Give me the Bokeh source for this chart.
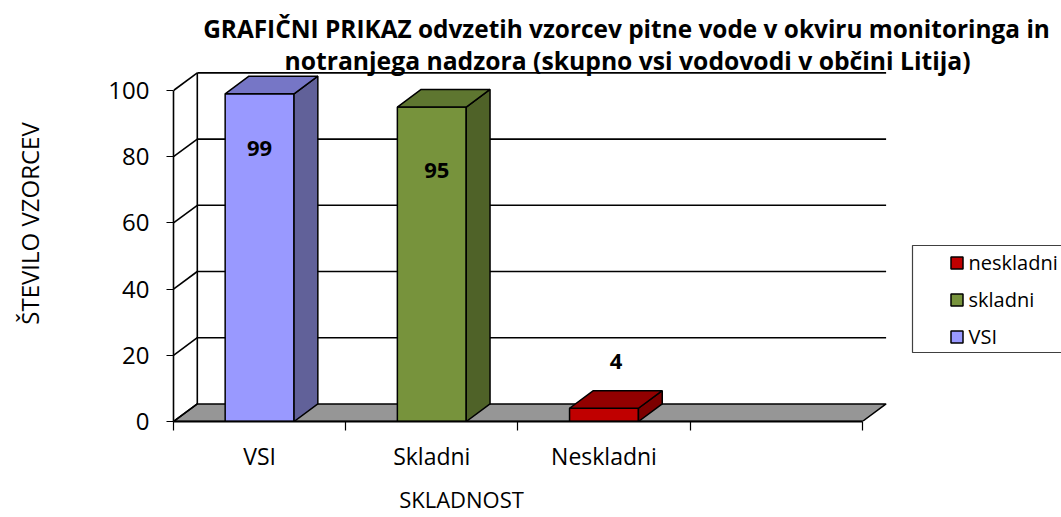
import math
from bokeh.plotting import figure
from bokeh.models import (Range1d, FixedTicker, Label, Legend, LegendItem,
                          BoxAnnotation, ColumnDataSource, LinearAxis)
from bokeh.core.properties import value
from bokeh.embed import file_html
from bokeh.resources import INLINE

# ---------------- data ----------------
categories = ["VSI", "Skladni", "Neskladni", ""]
series = ["VSI", "skladni", "neskladni"]
counts = [99, 95, 4]
y_ticks = [0, 20, 40, 60, 80, 100]
title_lines = ["GRAFIČNI PRIKAZ odvzetih vzorcev pitne vode v okviru monitoringa in",
               "notranjega nadzora (skupno vsi vodovodi v občini Litija)"]
y_title = "ŠTEVILO VZORCEV"
x_title = "SKLADNOST"

front_colors = ["#9999FF", "#77933C", "#C00000"]
top_colors = ["#7676C6", "#5E7630", "#920000"]
side_colors = ["#616199", "#4F6228", "#7C0000"]

# ---------------- geometry ----------------
W, H = 1061, 517
LEFT, BOTTOM = 173, 421          # canvas pixels of the frame's left / bottom
XS = 172.2                       # px per category unit
YS = 3.31                        # px per count unit
X_END = (W - LEFT) / XS
Y_END = BOTTOM / YS
DX = 23.8 / XS                   # 3D depth offset
DY = 17.6 / YS
HW = 0.2                         # half bar width
FONT = "Open Sans"


def px(x):
    return (x - LEFT) / XS


def py(y):
    return (BOTTOM - y) / YS


p = figure(width=W, height=H, x_range=Range1d(0, X_END), y_range=Range1d(0, Y_END),
           output_backend="svg", toolbar_location=None,
           min_border_left=LEFT, min_border_right=0, min_border_top=0,
           min_border_bottom=H - BOTTOM)
p.outline_line_color = None
p.grid.visible = False
p.background_fill_color = "white"
p.border_fill_color = "white"

n = len(categories)
top_val = y_ticks[-1]

# floor
p.patch([0, n, n + DX, DX], [0, 0, DY, DY], fill_color="#969696",
        line_color="black", line_width=1.5)
# back wall gridlines
p.multi_line([[DX, n + DX] for t in y_ticks[1:]], [[t + DY, t + DY] for t in y_ticks[1:]],
             line_color="black", line_width=1.6)
# left wall diagonals
p.multi_line([[0, DX] for t in y_ticks], [[t, t + DY] for t in y_ticks],
             line_color="black", line_width=1.6)
# back-left edge
p.line([DX, DX], [DY, top_val + DY], line_color="black", line_width=1.6)

# bars
xc = [i + 0.5 for i in range(len(counts))]
src = ColumnDataSource(dict(left=[c - HW for c in xc], right=[c + HW for c in xc],
                            top=counts, bottom=[0] * len(counts), color=front_colors))
front_r = p.quad(left="left", right="right", top="top", bottom="bottom", source=src,
                 fill_color="color", line_color="black", line_width=1.5)
p.patches([[c + HW, c + HW + DX, c + HW + DX, c + HW] for c in xc],
          [[0, DY, v + DY, v] for v in counts],
          fill_color=side_colors, line_color="black", line_width=1.5)
p.patches([[c - HW, c - HW + DX, c + HW + DX, c + HW] for c in xc],
          [[v, v + DY, v + DY, v] for v in counts],
          fill_color=top_colors, line_color="black", line_width=1.5)

# data labels
label_dx_px = [0, 5, 12]
label_dy_px = [-55, -63.5, 47]
p.text(x=[c + d / XS for c, d in zip(xc, label_dx_px)],
       y=[v + d / YS for v, d in zip(counts, label_dy_px)],
       text=[str(v) for v in counts], text_align="center", text_baseline="middle",
       text_font=value(FONT), text_font_style="bold", text_font_size="22px",
       text_color="black")

# axes
p.yaxis.ticker = FixedTicker(ticks=y_ticks)
p.yaxis.bounds = (0, top_val)
p.yaxis.major_tick_out = 7
p.yaxis.major_tick_in = 0
p.yaxis.minor_tick_out = 0
p.yaxis.minor_tick_in = 0
p.yaxis.major_label_standoff = 17
p.yaxis.major_label_text_font = FONT
p.yaxis.major_label_text_font_size = "24px"
p.yaxis.major_label_text_color = "black"
p.yaxis.axis_line_color = "black"
p.yaxis.axis_line_width = 1.6
p.yaxis.major_tick_line_color = "black"
p.yaxis.major_tick_line_width = 1.2

p.xaxis.ticker = FixedTicker(ticks=[i + 0.5 for i in range(n)], minor_ticks=list(range(n + 1)))
p.xaxis.major_label_overrides = {i + 0.5: c for i, c in enumerate(categories)}
p.xaxis.bounds = (0, n)
p.xaxis.major_tick_out = 0
p.xaxis.major_tick_in = 0
p.xaxis.minor_tick_out = 9
p.xaxis.minor_tick_in = 0
p.xaxis.major_label_standoff = 9
p.xaxis.major_label_text_font = FONT
p.xaxis.major_label_text_font_size = "23px"
p.xaxis.major_label_text_color = "black"
p.xaxis.axis_line_color = "black"
p.xaxis.axis_line_width = 2
p.xaxis.minor_tick_line_color = "black"
p.xaxis.minor_tick_line_width = 1.2

# axis titles as single-tick axes (placed at their positions via the scales)
yt = py(223)
ytitle_axis = LinearAxis(ticker=FixedTicker(ticks=[yt], minor_ticks=[]),
                         major_label_overrides={yt: y_title},
                         major_label_orientation="vertical", major_label_standoff=54,
                         major_label_text_font=FONT, major_label_text_font_size="24px",
                         major_label_text_color="black", axis_line_color=None,
                         major_tick_line_color=None, minor_tick_line_color=None)
p.add_layout(ytitle_axis, "left")
xt = px(461)
xtitle_axis = LinearAxis(ticker=FixedTicker(ticks=[xt], minor_ticks=[]),
                         major_label_overrides={xt: x_title}, major_label_standoff=3,
                         major_label_text_font=FONT, major_label_text_font_size="22px",
                         major_label_text_color="black", axis_line_color=None,
                         major_tick_line_color=None, minor_tick_line_color=None)
p.add_layout(xtitle_axis, "below")

# chart title
p.add_layout(Label(x=px(626), y=py(28.3), text=title_lines[0], text_align="center",
                   text_baseline="alphabetic", text_font=FONT, text_font_style="bold",
                   text_font_size="24.4px", text_color="black"))
p.add_layout(Label(x=px(627), y=py(59.5), text=title_lines[1], text_align="center",
                   text_baseline="alphabetic", text_font=FONT, text_font_style="bold",
                   text_font_size="24.7px", text_color="black"))

# legend
p.add_layout(BoxAnnotation(left=px(912), right=px(1080), top=py(245), bottom=py(352),
                           fill_alpha=0, line_color="#404040", line_width=1.2, line_alpha=1))
items = [LegendItem(label=series[i], renderers=[front_r], index=i) for i in (2, 1, 0)]
legend = Legend(items=items, location=(948.5 - LEFT, 71), padding=0, margin=0, spacing=10,
                glyph_width=15, glyph_height=15, label_standoff=5,
                label_text_font=FONT, label_text_font_size="20px", label_text_color="black",
                border_line_alpha=0, background_fill_alpha=0)
p.add_layout(legend)

open("out.html", "w").write(file_html(p, INLINE))
